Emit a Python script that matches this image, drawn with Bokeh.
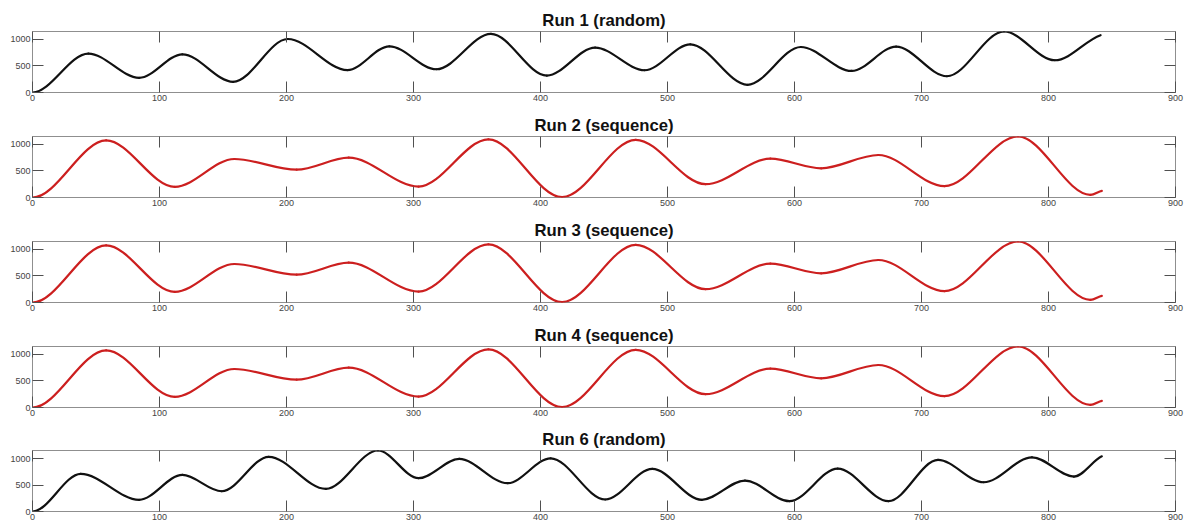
from bokeh.plotting import figure
from bokeh.layouts import column
from bokeh.models import Range1d, FixedTicker, LinearAxis, CustomLabelingPolicy
from bokeh.embed import file_html
from bokeh.resources import INLINE

# Axis ticks
x_ticks = [0, 100, 200, 300, 400, 500, 600, 700, 800, 900]
y_ticks = [0, 500, 1000]

# Turning points (start, successive peaks / troughs, end) of each run
run1_x = [0, 44, 84, 118, 158, 201, 248, 281, 318, 361, 405, 443, 482, 518, 563, 605, 645, 680, 720, 765, 805, 841]
run1_y = [0, 730, 275, 717, 200, 1004, 420, 867, 436, 1100, 318, 843, 418, 904, 145, 854, 405, 861, 305, 1145, 605, 1075]

seq_x = [0, 58, 112, 159, 208, 249, 304, 359, 417, 475, 530, 581, 621, 666, 718, 776, 833, 842]
seq_y = [0, 1075, 200, 725, 524, 749, 205, 1094, 8, 1086, 251, 730, 550, 800, 213, 1148, 50, 125]

run6_x = [0, 38, 84, 118, 149, 186, 231, 272, 304, 336, 374, 408, 451, 488, 527, 561, 596, 634, 674, 713, 749, 787, 820, 842]
run6_y = [0, 715, 222, 696, 385, 1040, 430, 1160, 633, 1000, 538, 1012, 228, 810, 222, 588, 196, 815, 196, 981, 556, 1030, 664, 1049]

titles = ["Run 1 (random)", "Run 2 (sequence)", "Run 3 (sequence)", "Run 4 (sequence)", "Run 6 (random)"]
series = [(run1_x, run1_y), (seq_x, seq_y), (seq_x, seq_y), (seq_x, seq_y), (run6_x, run6_y)]
colors = ["#111111", "#cc1f1f", "#cc1f1f", "#cc1f1f", "#111111"]
heights = [105, 105, 105, 104, 103]

BOX = "#8f8f8f"
TICK = "#505050"
LABEL = "#444444"


def mirror_axis(ticks):
    # tick marks only, on the opposite side of the box
    return LinearAxis(ticker=FixedTicker(ticks=ticks), axis_line_color=None,
                      major_tick_in=11, major_tick_out=0, minor_tick_in=0, minor_tick_out=0,
                      major_tick_line_color=TICK, major_label_standoff=0,
                      major_label_text_font_size="0px",
                      major_label_policy=CustomLabelingPolicy(code="""
                          for (const i of indices)
                              indices.unset(i)
                      """))


figs = []
for title, (xs, ys), col, h in zip(titles, series, colors, heights):
    p = figure(width=1186, height=h, output_backend="svg", toolbar_location=None,
               x_range=Range1d(0, 900), y_range=Range1d(0, max(ys)),
               min_border_left=32, min_border_right=11,
               min_border_top=31, min_border_bottom=h - 31 - 61,
               title=title)
    p.title.align = "center"
    p.title.text_font = "Liberation Sans"
    p.title.text_font_style = "bold"
    p.title.text_font_size = "16.7px"
    p.title.text_color = "#111111"
    p.title.standoff = 4
    p.outline_line_color = BOX
    p.outline_line_width = 1
    p.xgrid.visible = False
    p.ygrid.visible = False
    p.background_fill_color = "white"
    p.border_fill_color = "white"

    for ax in p.xaxis:
        ax.ticker = FixedTicker(ticks=x_ticks)
    for ax in p.yaxis:
        ax.ticker = FixedTicker(ticks=y_ticks)
    for ax in list(p.xaxis) + list(p.yaxis):
        ax.axis_line_color = None
        ax.major_tick_in = 11
        ax.major_tick_out = 0
        ax.minor_tick_in = 0
        ax.minor_tick_out = 0
        ax.major_tick_line_color = TICK
        ax.major_label_text_font = "Liberation Sans"
        ax.major_label_text_color = LABEL
        ax.major_label_text_font_size = "9px"
        ax.major_label_standoff = 2

    p.add_layout(mirror_axis(x_ticks), "above")
    p.add_layout(mirror_axis(y_ticks), "right")

    # smooth segments between consecutive turning points (horizontal tangents at extrema)
    x0 = xs[:-1]
    x1 = xs[1:]
    y0 = ys[:-1]
    y1 = ys[1:]
    cx0 = [a + (b - a) / 3 for a, b in zip(x0, x1)]
    cx1 = [b - (b - a) / 3 for a, b in zip(x0, x1)]
    cy0 = list(y0)
    cy1 = list(y1)
    # the record stops mid-swing, so the last segment keeps some slope at its end
    cy1[-1] = y1[-1] - (y1[-1] - y0[-1]) / 5
    p.bezier(x0=x0, y0=y0, x1=x1, y1=y1, cx0=cx0, cy0=cy0, cx1=cx1, cy1=cy1,
             line_color=col, line_width=2.2, line_cap="round")
    figs.append(p)

layout = column(*figs, spacing=0)
open("out.html", "w").write(file_html(layout, INLINE))
